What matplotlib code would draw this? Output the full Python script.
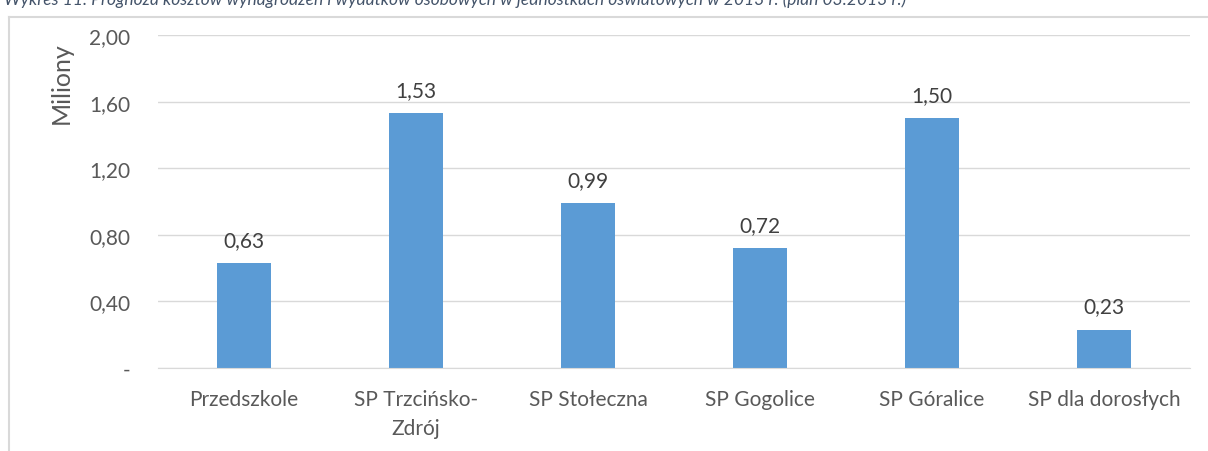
import matplotlib.pyplot as plt
from matplotlib.lines import Line2D

# dane wykresu
kategorie = ['Przedszkole', 'SP Trzcińsko-\nZdrój', 'SP Stołeczna', 'SP Gogolice',
             'SP Góralice', 'SP dla dorosłych']
wartosci = [0.63, 1.53, 0.99, 0.72, 1.50, 0.23]
ticki_y = [0, 0.40, 0.80, 1.20, 1.60, 2.00]
etykiety_y = ['-', '0,40', '0,80', '1,20', '1,60', '2,00']

plt.rcParams['font.family'] = ['Lato', 'DejaVu Sans']
szary = '#595959'

fig = plt.figure(figsize=(12.08, 4.52), dpi=100)
ax = fig.add_axes([158 / 1208, 1 - 369 / 452, 1032 / 1208, 333 / 452])

x = range(len(kategorie))
ax.bar(x, wartosci, width=0.31, color='#5B9BD5', zorder=3)
for i, v in zip(x, wartosci):
    ax.text(i, v + 0.105, f'{v:.2f}'.replace('.', ','), ha='center', va='baseline',
            fontsize=15, color='#404040')

ax.set_xlim(-0.5, len(kategorie) - 0.5)
ax.set_ylim(0, 2.0)
ax.set_yticks(ticki_y)
ax.set_yticklabels(etykiety_y)
ax.set_xticks(list(x))
ax.set_xticklabels(kategorie, linespacing=1.6, va='top')
ax.tick_params(axis='y', length=0, pad=20, labelsize=15, labelcolor=szary)
ax.tick_params(axis='x', length=0, pad=15, labelsize=15, labelcolor=szary)
ax.grid(axis='y', color='#D9D9D9', linewidth=1, zorder=0)
for s in ['top', 'right', 'left']:
    ax.spines[s].set_visible(False)
ax.spines['bottom'].set_color('#D9D9D9')
ax.spines['bottom'].set_zorder(4)

fig.text(61 / 1208, 1 - 83 / 452, 'Miliony', rotation=90, ha='center', va='center',
         fontsize=18, color=szary)

# ucięty tytuł u góry (w oryginale też obcięty)
fig.text(0.003, 1.0, 'Wykres 11. Prognoza kosztów wynagrodzeń i wydatków osobowych '
         'w jednostkach oświatowych w 2013 r. (plan 03.2013 r.)',
         ha='left', va='center', fontsize=12.5, style='italic', color='#44546A')

# ramka wykresu
fig.add_artist(Line2D([9 / 1208, 9 / 1208], [0, 1 - 18 / 452], color='#D9D9D9', lw=1.5))
fig.add_artist(Line2D([9 / 1208, 1], [1 - 18 / 452, 1 - 18 / 452], color='#D9D9D9', lw=1.5))

fig.savefig('out.png', dpi=100)
